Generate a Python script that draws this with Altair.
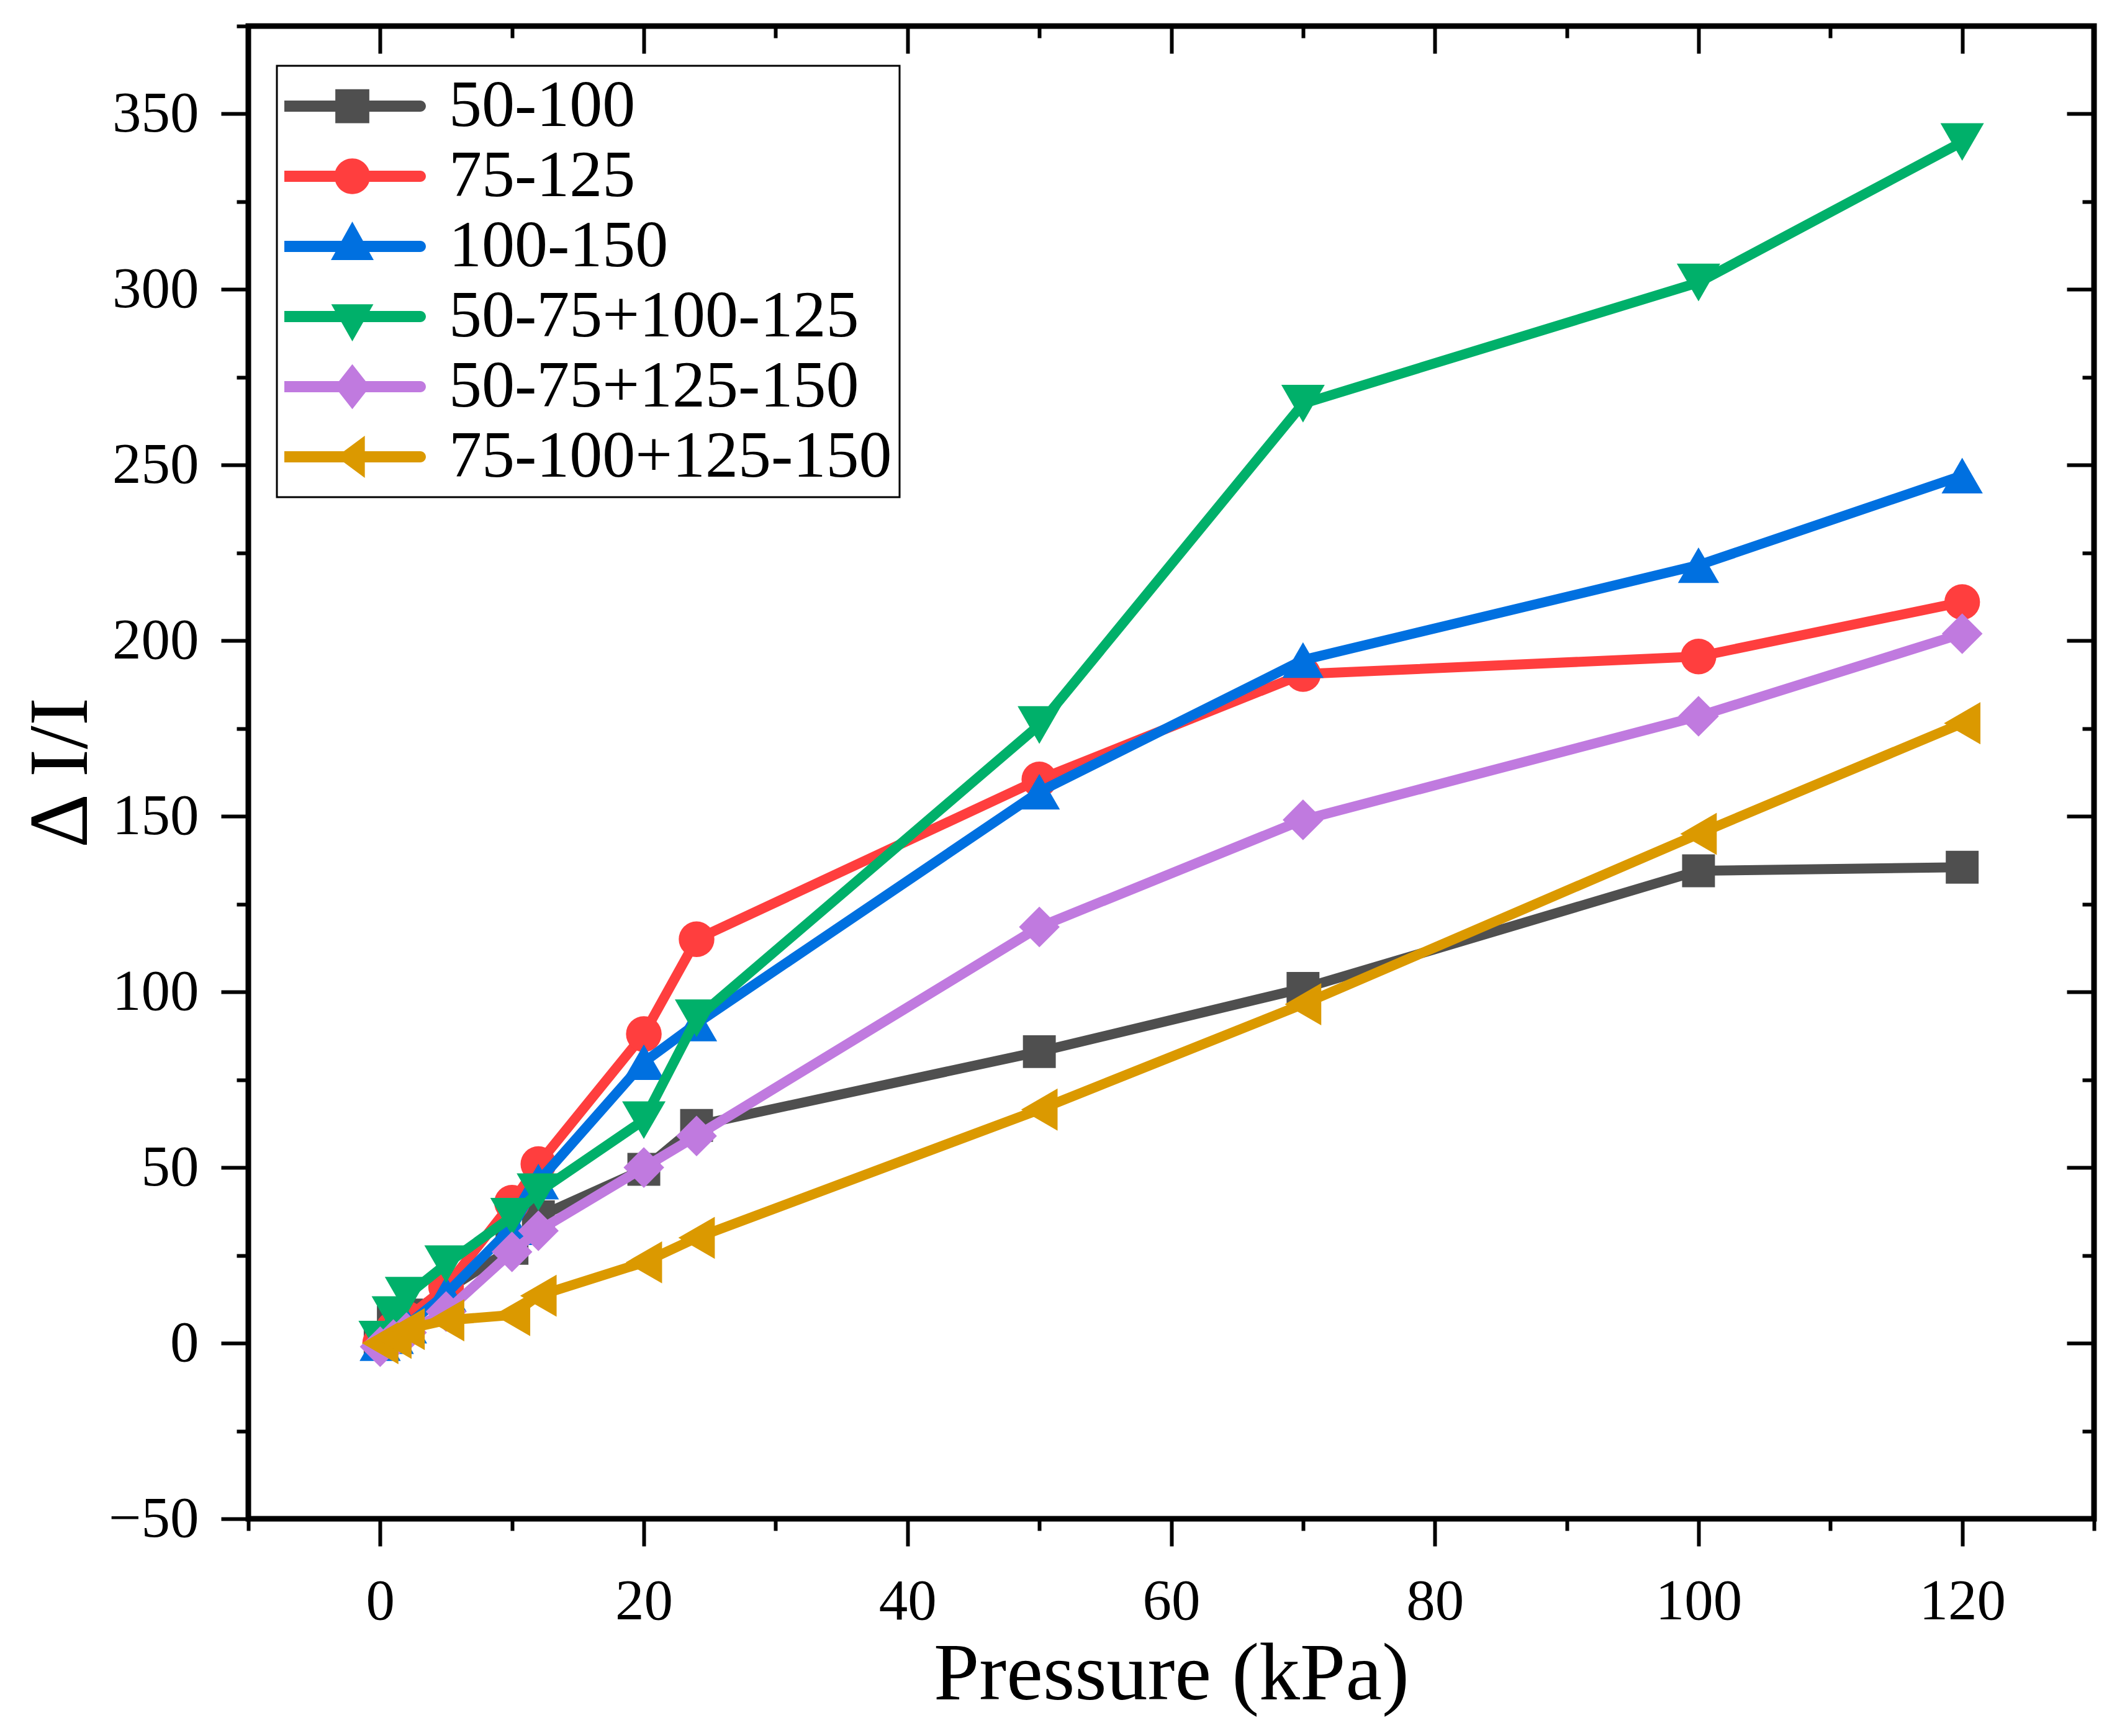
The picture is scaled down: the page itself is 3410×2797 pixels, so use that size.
import altair as alt
import pandas as pd

# ---------------- data ----------------
pressure = [0, 1, 2, 5, 10, 12, 20, 24, 50, 70, 100, 120]
series_names = ["50-100", "75-125", "100-150", "50-75+100-125", "50-75+125-150", "75-100+125-150"]
s_50_100 = [1, 6, 8, 15, 27, 36, 49.5, 62, 83, 101, 134.5, 135.5]
s_75_125 = [0, 4, 7, 16, 40, 51, 88, 115, 160.5, 190.5, 195.5, 211]
s_100_150 = [0, 2, 5, 14, 33, 46, 80, 91, 157, 194.5, 221.5, 247]
s_50_75_100_125 = [1, 8, 13.5, 22.5, 36, 43, 63.5, 92.5, 176, 267.5, 302, 342]
s_50_75_125_150 = [-1, 1, 3, 9, 26, 32, 50, 59, 118.5, 149, 178.5, 202]
s_75_100_125_150 = [0, 1.5, 4, 6.5, 8, 13.5, 23, 30, 66.5, 96.5, 145, 176.5]
all_series = [s_50_100, s_75_125, s_100_150, s_50_75_100_125, s_50_75_125_150, s_75_100_125_150]

x_major = [0, 20, 40, 60, 80, 100, 120]
x_minor = [-10, 10, 30, 50, 70, 90, 110, 130]
y_major = [-50, 0, 50, 100, 150, 200, 250, 300, 350]
y_minor = [-25, 25, 75, 125, 175, 225, 275, 325, 375]

# ---------------- styles ----------------
colors = ["#4F4F4F", "#FF3E3E", "#0070E0", "#00B06A", "#C07ADF", "#DB9900"]
shapes = ["square", "circle", "triangle-up", "triangle-down", "diamond", "triangle-left"]
sizes = [2800, 3300, 4400, 4900, 4300, 4600]

T = 0.082
LINE = f"M-1,-{T}L1,-{T}A{T} {T} 0 0 1 1,{T}L-1,{T}A{T} {T} 0 0 1 -1,-{T}Z"
legend_paths = [
    LINE + "M-0.25,-0.25L0.25,-0.25L0.25,0.25L-0.25,0.25Z",
    LINE + "M-0.262,0A0.262 0.262 0 1 1 0.262,0A0.262 0.262 0 1 1 -0.262,0Z",
    LINE + "M0,-0.365L0.315,0.2L-0.315,0.2Z",
    LINE + "M-0.31,-0.18L0.31,-0.18L0,0.365Z",
    LINE + "M0,-0.33L0.26,0L0,0.33L-0.26,0Z",
    LINE + "M-0.234,0L0.184,-0.31L0.184,0.31Z",
]

FONT = "Liberation Serif"

rows = []
for name, vals in zip(series_names, all_series):
    for p, v in zip(pressure, vals):
        rows.append({"series": name, "pressure": p, "value": v})
df = pd.DataFrame(rows)

xscale = alt.Scale(domain=[-10, 130], nice=False, zero=False)
yscale = alt.Scale(domain=[-50, 375], nice=False, zero=False)

common_axis = dict(domain=False, grid=False, tickColor="black", tickWidth=6,
                   labelFont=FONT, titleFont=FONT, labelColor="black", titleColor="black",
                   titleFontWeight="normal", labelFlush=False, labelOverlap=False)

x_axes = [
    alt.Axis(orient="bottom", values=x_major, tickSize=44, labels=True, labelFontSize=93,
             labelPadding=44, title="Pressure (kPa)", titleFontSize=132, titlePadding=6, **common_axis),
    alt.Axis(orient="bottom", values=x_minor, tickSize=19, labels=False, title=None, **common_axis),
    alt.Axis(orient="top", values=x_major, tickSize=44, offset=-44, labels=False, title=None, **common_axis),
    alt.Axis(orient="top", values=x_minor, tickSize=19, offset=-19, labels=False, title=None, **common_axis),
]
y_axes = [
    alt.Axis(orient="left", values=y_major, tickSize=44, labels=True, labelFontSize=93,
             labelPadding=36, title="Δ I/I", titleFontSize=136, titlePadding=32, **common_axis),
    alt.Axis(orient="left", values=y_minor, tickSize=19, labels=False, title=None, **common_axis),
    alt.Axis(orient="right", values=y_major, tickSize=44, offset=-44, labels=False, title=None, **common_axis),
    alt.Axis(orient="right", values=y_minor, tickSize=19, offset=-19, labels=False, title=None, **common_axis),
]

layers = []
for i, name in enumerate(series_names):
    xa = x_axes[i] if i < len(x_axes) else None
    ya = y_axes[i] if i < len(y_axes) else None
    layer = (
        alt.Chart(df)
        .transform_filter(alt.datum.series == name)
        .mark_line(
            color=colors[i], strokeWidth=16,
            point=alt.OverlayMarkDef(shape=shapes[i], size=sizes[i], filled=True,
                                     color=colors[i], opacity=1),
        )
        .encode(
            x=alt.X("pressure:Q", scale=xscale, axis=xa),
            y=alt.Y("value:Q", scale=yscale, axis=ya),
        )
    )
    layers.append(layer)

legend_kw = dict(
    title=None, orient="none", legendX=46, legendY=64,
    labelFont=FONT, labelFontSize=106, labelColor="black", labelOffset=46,
    symbolSize=47961, symbolStrokeWidth=0, symbolOpacity=1,
    clipHeight=106, rowPadding=7, padding=12, strokeColor="black", fillColor="white",
    labelLimit=2000,
)

legend_layer = (
    alt.Chart(df)
    .transform_filter("false")
    .mark_point(filled=True, strokeWidth=0)
    .encode(
        x=alt.X("pressure:Q", scale=xscale, axis=None),
        y=alt.Y("value:Q", scale=yscale, axis=None),
        color=alt.Color("series:N", scale=alt.Scale(domain=series_names, range=colors),
                        legend=alt.Legend(**legend_kw)),
        shape=alt.Shape("series:N", scale=alt.Scale(domain=series_names, range=legend_paths),
                        legend=alt.Legend(**legend_kw)),
    )
)
layers.append(legend_layer)

chart = (
    alt.layer(*layers)
    .resolve_axis(x="independent", y="independent")
    .properties(
        width=2973, height=2405,
        autosize=alt.AutoSizeParams(type="none"),
        padding={"left": 392, "top": 34, "right": 21, "bottom": 340},
    )
    .configure_view(stroke="black", strokeWidth=9)
    .configure_legend(strokeWidth=3)
)

chart.save("out.html", embed_options={"renderer": "svg", "actions": False})
